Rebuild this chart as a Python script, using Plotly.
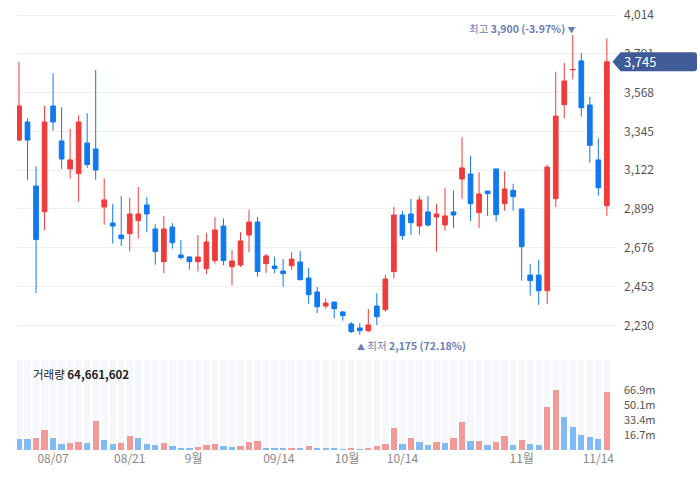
import pandas as pd
import numpy as np
import plotly.graph_objects as go

# ---------------- data ----------------
holidays = ["2024-08-15", "2024-09-16", "2024-09-17", "2024-09-18",
            "2024-10-01", "2024-10-03", "2024-10-09"]
dates = [d for d in pd.bdate_range("2024-08-01", "2024-11-15")
         if d.strftime("%Y-%m-%d") not in holidays]

opens = [3295, 3399, 3031, 2883, 3491, 3290, 3129, 3102, 3278, 3244,
         2910, 2818, 2749, 2757, 2832, 2922, 2784, 2596, 2795, 2634,
         2623, 2596, 2556, 2602, 2801, 2567, 2577, 2749, 2824, 2585,
         2571, 2542, 2573, 2594, 2502, 2422, 2341, 2364, 2307, 2238,
         2215, 2199, 2341, 2320, 2539, 2864, 2870, 2801, 2882, 2853,
         2807, 2882, 3071, 3100, 2878, 3002, 3129, 2929, 3006, 2899,
         2519, 2519, 2429, 2958, 3499, 3699, 3750, 3497, 3181, 2918]
highs = [3744, 3420, 3144, 3493, 3679, 3483, 3359, 3437, 3449, 3698,
         3075, 2929, 2974, 2964, 3025, 2966, 2811, 2859, 2818, 2721,
         2627, 2749, 2761, 2851, 2845, 2663, 2765, 2895, 2853, 2640,
         2625, 2611, 2650, 2657, 2560, 2450, 2385, 2364, 2312, 2249,
         2243, 2324, 2414, 2519, 2910, 2889, 2956, 2974, 2974, 2929,
         3020, 3006, 3311, 3205, 3110, 3002, 3129, 3115, 3044, 2899,
         2581, 2606, 3154, 3688, 3738, 3900, 3796, 3543, 3305, 3878]
lows = [3290, 3064, 2416, 2776, 3349, 3129, 3073, 2941, 3135, 3067,
        2809, 2700, 2686, 2655, 2728, 2765, 2579, 2529, 2671, 2608,
        2550, 2539, 2525, 2585, 2575, 2460, 2565, 2650, 2510, 2531,
        2531, 2452, 2550, 2487, 2355, 2301, 2326, 2270, 2257, 2186,
        2175, 2192, 2232, 2309, 2500, 2721, 2749, 2749, 2797, 2654,
        2774, 2790, 2958, 2830, 2790, 2859, 2826, 2889, 2889, 2487,
        2401, 2347, 2353, 2910, 3420, 3644, 3430, 3165, 2975, 2860]
closes = [3491, 3295, 2723, 3399, 3399, 3186, 3181, 3399, 3154, 3123,
          2951, 2801, 2728, 2870, 2870, 2870, 2654, 2784, 2705, 2619,
          2596, 2623, 2709, 2778, 2602, 2600, 2715, 2824, 2539, 2629,
          2556, 2527, 2611, 2493, 2406, 2337, 2358, 2326, 2286, 2194,
          2199, 2232, 2280, 2496, 2864, 2746, 2820, 2951, 2807, 2870,
          2859, 2864, 3135, 2929, 2985, 2987, 2866, 3014, 2970, 2682,
          2487, 2429, 3140, 3433, 3635, 3701, 3481, 3265, 3021, 3745]
volumes = [12.2e6, 12.1e6, 13.3e6, 22.2e6, 13.7e6, 6.7e6, 7.8e6, 8.9e6, 7.8e6, 32.2e6,
           11.1e6, 6.7e6, 7.8e6, 15.5e6, 13.7e6, 6.7e6, 5.5e6, 7.8e6, 4.4e6, 2.2e6,
           2.1e6, 3.3e6, 5.5e6, 6.7e6, 4.4e6, 3.3e6, 4.4e6, 8.9e6, 10.0e6, 2.3e6,
           2.2e6, 2.1e6, 2.3e6, 2.2e6, 4.4e6, 2.3e6, 2.2e6, 2.1e6, 1.1e6, 2.2e6,
           1.1e6, 2.2e6, 4.4e6, 6.7e6, 24.4e6, 6.7e6, 13.3e6, 8.9e6, 5.2e6, 8.9e6,
           7.8e6, 12.9e6, 31.1e6, 10.0e6, 10.2e6, 5.2e6, 8.9e6, 15.5e6, 5.2e6, 10.7e6,
           6.7e6, 5.2e6, 47.7e6, 66.9e6, 36.6e6, 25.5e6, 16.6e6, 14.4e6, 12.2e6, 64661602]

price_ticks = [2230, 2453, 2676, 2899, 3122, 3345, 3568, 3791, 4014]
vol_ticks = [16.7e6, 33.4e6, 50.1e6, 66.9e6]
vol_tick_text = ["16.7m", "33.4m", "50.1m", "66.9m"]
date_tick_dates = ["2024-08-07", "2024-08-21", "2024-09-01", "2024-09-14",
                   "2024-10-01", "2024-10-14", "2024-11-01", "2024-11-14"]
date_tick_text = ["08/07", "08/21", "9월", "09/14", "10월", "10/14", "11월", "11/14"]

# ---------------- styling ----------------
RED = "#ef3b3b"
BLUE = "#1079ef"
VRED = "#f29a9a"
VBLUE = "#80bbf5"
STRIPE = "#f5f7fb"
TAG = "#3f5b98"
ANN = "#6b7db5"
FONT = "Noto Sans CJK KR, Noto Sans, sans-serif"

W, H = 698, 478
ML, MR, MT, MB = 17, 81, 0, 28
PW = W - ML - MR
PH = H - MT - MB

n = len(dates)
x = list(range(n))

# x positions for date labels (between trading days when the date is not one)
ds = pd.DatetimeIndex(dates)
tick_pos = []
for t in date_tick_dates:
    td = pd.Timestamp(t)
    i = int(ds.searchsorted(td))
    tick_pos.append(i if (i < n and ds[i] == td) else i - 0.5)

vol_colors = [VBLUE] + [VRED if volumes[i] >= volumes[i - 1] else VBLUE for i in range(1, n)]
vmax = max(volumes)

def px2paper_x(px):
    return (px - ML) / PW

def py2paper_y(py):
    return (H - MB - py) / PH

# price axis: 4014 at y=15px, 2230 at y=325.3px
k = (325.33 - 15.0) / (4014 - 2230)  # px per unit
price_top_px, price_bot_px = 0.0, 340.0
y_hi = 4014 + (15.0 - price_top_px) / k
y_lo = 2230 - (price_bot_px - 325.33) / k

fig = go.Figure()

# volume stripes and bars
fig.add_trace(go.Bar(x=x, y=[vmax * 1.5] * n, marker=dict(color=STRIPE, line=dict(width=0)),
                     width=0.74, xaxis="x2", yaxis="y2", hoverinfo="skip", showlegend=False))
fig.add_trace(go.Bar(x=x, y=volumes, marker=dict(color=vol_colors, line=dict(width=0)),
                     width=0.74, xaxis="x2", yaxis="y2", hoverinfo="skip", showlegend=False))

fig.add_trace(go.Candlestick(
    x=x, open=opens, high=highs, low=lows, close=closes,
    increasing=dict(line=dict(color=RED, width=1), fillcolor=RED),
    decreasing=dict(line=dict(color=BLUE, width=1), fillcolor=BLUE),
    whiskerwidth=0, xaxis="x", yaxis="y", hoverinfo="skip", showlegend=False))

xr = [-0.235, 70.19]

last_close = closes[-1]
hi = max(highs); hi_i = highs.index(hi)
lo = min(lows); lo_i = lows.index(lo)

annotations = [
    dict(x=hi_i, y=hi, xref="x", yref="y", xanchor="right", yanchor="middle",
         xshift=5, yshift=6, showarrow=False,
         text=f"최고 <b>{hi:,} ({(last_close / hi - 1) * 100:.2f}%)</b> <span style='font-size:8px'>▼</span>",
         font=dict(family=FONT, size=10.5, color=ANN)),
    dict(x=lo_i, y=lo, xref="x", yref="y", xanchor="left", yanchor="middle",
         xshift=-5, yshift=-11, showarrow=False,
         text=f"<span style='font-size:8px'>▲</span> 최저 <b>{lo:,} ({(last_close / lo - 1) * 100:.2f}%)</b>",
         font=dict(family=FONT, size=10.5, color=ANN)),
    dict(x=px2paper_x(31), y=py2paper_y(373.5), xref="paper", yref="paper",
         xanchor="left", yanchor="middle", showarrow=False,
         text=f"거래량 <b>{volumes[-1]:,.0f}</b>",
         font=dict(family=FONT, size=11.5, color="#222")),
    dict(x=px2paper_x(622), y=last_close, xref="paper", yref="y",
         xanchor="left", yanchor="middle", showarrow=False,
         text=f"{last_close:,}", font=dict(family=FONT, size=13, color="white")),
]

h = 9.5 / k
ry = 3 / k
xt, xf, xrgt = px2paper_x(612.5), px2paper_x(620.5), px2paper_x(697)
rr = 3 / PW
c = last_close
path = (f"M {xt},{c} L {xf},{c + h} L {xrgt - rr},{c + h} Q {xrgt},{c + h} {xrgt},{c + h - ry} "
        f"L {xrgt},{c - h + ry} Q {xrgt},{c - h} {xrgt - rr},{c - h} L {xf},{c - h} Z")
shapes = [dict(type="path", xref="paper", yref="y", path=path,
               fillcolor=TAG, line=dict(width=0), layer="above")]

fig.update_layout(
    width=W, height=H,
    margin=dict(l=ML, r=MR, t=MT, b=MB),
    paper_bgcolor="white", plot_bgcolor="white",
    font=dict(family=FONT, size=12, color="#555"),
    barmode="overlay", bargap=0,
    boxgap=0.45, boxgroupgap=0,
    showlegend=False,
    hovermode=False,
    annotations=annotations,
    shapes=shapes,
    xaxis=dict(domain=[0, 1], anchor="y", range=xr, showticklabels=False, showgrid=False,
               zeroline=False, showline=False, ticks="", rangeslider=dict(visible=False)),
    xaxis2=dict(domain=[0, 1], anchor="y2", matches="x", range=xr, tickmode="array",
                tickvals=tick_pos, ticktext=date_tick_text, showgrid=False, zeroline=False,
                showline=False, ticks="", tickfont=dict(family=FONT, size=12, color="#888")),
    yaxis=dict(domain=[py2paper_y(price_bot_px), py2paper_y(price_top_px)], anchor="x",
               range=[y_lo, y_hi], side="right", tickmode="array", tickvals=price_ticks,
               tickformat=",", showgrid=True, gridcolor="#f0f0f0", gridwidth=1,
               zeroline=False, showline=False, ticks="", ticklabelstandoff=6,
               tickfont=dict(family=FONT, size=12, color="#555")),
    yaxis2=dict(domain=[0, py2paper_y(360)], anchor="x2", range=[0, vmax * 1.5], side="right",
                tickmode="array", tickvals=vol_ticks, ticktext=vol_tick_text,
                showgrid=False, zeroline=False, showline=False, ticks="", ticklabelstandoff=6,
                tickfont=dict(family=FONT, size=11, color="#555")),
)

fig.write_html("out.html")
